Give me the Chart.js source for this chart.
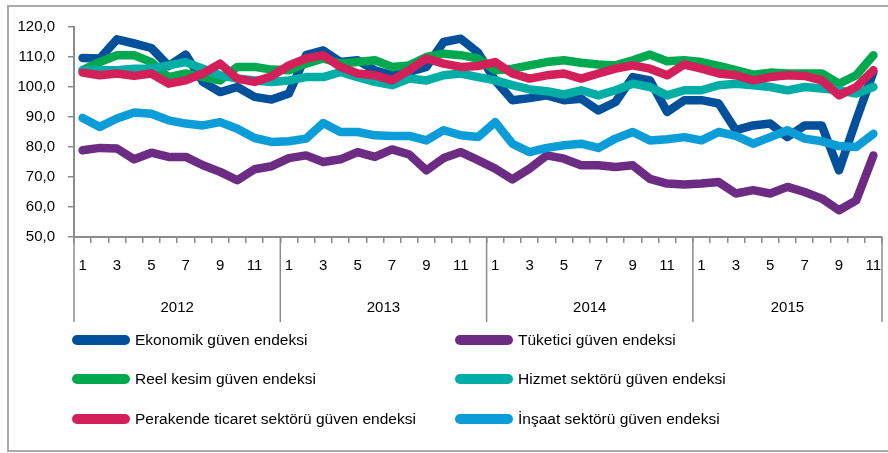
<!DOCTYPE html>
<html>
<head>
<meta charset="utf-8">
<script src="https://cdn.jsdelivr.net/npm/chart.js@4.4.0/dist/chart.umd.min.js"></script>
<style>
  html, body { margin: 0; padding: 0; background: #fff; }
  body { width: 888px; height: 453px; overflow: hidden; position: relative; font-family: "Liberation Sans", Arial, sans-serif; }
  #frame { position: absolute; left: 7px; top: 5px; width: 892px; height: 447px; border: 2px solid #ababab; box-sizing: border-box; }
  #grafik { position: absolute; left: 0; top: 0; }
  .item { position: absolute; height: 20px; display: flex; align-items: center; font-size: 15.5px; color: #000; white-space: nowrap; }
  .swatch { width: 58px; height: 10px; border-radius: 5px; margin-right: 5px; }
</style>
</head>
<body>
<div id="frame"></div>
<canvas id="grafik" width="888" height="453"></canvas>
<div id="legend"></div>
<script>
// yillar ve her yildaki ay sayisi
const yillar = ['2012', '2013', '2014', '2015'];
const aylar = [12, 12, 12, 11];

const ekonomik = [
  109.7, 109.5, 115.9, 114.5, 113.0, 107.0, 110.8, 101.7, 98.3, 100.0, 96.7, 95.8,
  97.8, 110.6, 112.2, 108.3, 108.9, 105.6, 103.9, 105.0, 106.7, 115.0, 116.1, 111.5,
  102.2, 95.6, 96.3, 97.2, 95.6, 96.1, 92.2, 95.0, 103.3, 102.2, 91.7, 95.6,
  95.6, 94.5, 85.6, 87.2, 87.8, 83.3, 87.2, 87.2, 72.2, 89.0, 105.0
];
const tuketici = [
  78.9, 79.7, 79.5, 75.9, 78.1, 76.7, 76.7, 73.9, 71.7, 68.9, 72.6, 73.6,
  76.3, 77.2, 75.0, 75.9, 78.3, 76.7, 79.2, 77.5, 72.2, 76.3, 78.3, 75.6,
  72.8, 69.2, 72.8, 77.2, 76.1, 73.9, 73.9, 73.3, 73.9, 69.4, 67.8, 67.5,
  67.8, 68.3, 64.5, 65.6, 64.5, 66.7, 65.0, 62.8, 58.9, 62.2, 77.2
];
const reel = [
  105.6, 108.3, 110.6, 110.6, 108.3, 103.3, 104.5, 103.3, 102.2, 106.7, 106.7, 105.8,
  105.6, 107.8, 109.5, 107.8, 108.3, 108.9, 106.7, 107.2, 110.0, 111.1, 110.6, 109.5,
  105.6, 106.1, 107.2, 108.3, 108.9, 108.1, 107.5, 107.2, 108.9, 110.8, 108.6, 108.9,
  108.3, 107.0, 105.6, 104.1, 104.8, 104.5, 104.5, 104.5, 101.1, 103.9, 110.6
];
const hizmet = [
  105.6, 105.6, 105.6, 106.1, 106.1, 107.2, 108.3, 106.1, 103.9, 102.8, 102.2, 101.7,
  102.2, 103.3, 103.3, 105.0, 103.3, 101.7, 100.6, 102.8, 102.2, 103.9, 104.5, 103.3,
  102.2, 100.6, 99.2, 98.6, 97.5, 98.9, 97.2, 98.9, 101.1, 100.0, 97.2, 98.9,
  98.9, 100.6, 101.1, 100.6, 100.0, 98.9, 100.0, 99.5, 98.9, 97.8, 100.0
];
const perakende = [
  104.8, 103.9, 104.5, 103.7, 104.5, 101.1, 102.2, 104.5, 107.8, 102.8, 101.7, 103.6,
  107.2, 109.5, 110.6, 106.7, 104.5, 103.9, 102.2, 105.6, 109.5, 107.8, 106.7, 107.0,
  108.3, 104.5, 102.8, 103.9, 104.5, 102.8, 104.5, 106.1, 107.2, 106.1, 103.9, 107.5,
  106.1, 104.5, 103.9, 102.2, 103.3, 103.9, 103.7, 102.2, 97.2, 100.0, 105.6
];
const insaat = [
  89.7, 86.7, 89.5, 91.5, 91.1, 88.9, 87.8, 87.2, 88.3, 86.1, 83.0, 81.7,
  81.9, 82.8, 88.0, 85.0, 85.0, 83.9, 83.7, 83.7, 82.2, 85.6, 83.9, 83.3,
  88.3, 81.1, 78.3, 79.7, 80.6, 81.1, 79.7, 82.8, 85.0, 82.2, 82.6, 83.3,
  82.2, 85.0, 83.7, 81.1, 83.3, 85.6, 82.8, 81.9, 80.3, 80.0, 84.4
];

const yMin = 50, yMax = 120, yAdim = 10;

const seriler = [
  { ad: 'Ekonomik güven endeksi', veri: ekonomik, renk: '#00509b' },
  { ad: 'Tüketici güven endeksi', veri: tuketici, renk: '#6d2c84' },
  { ad: 'Reel kesim güven endeksi', veri: reel, renk: '#00a84f' },
  { ad: 'Hizmet sektörü güven endeksi', veri: hizmet, renk: '#00aea6' },
  { ad: 'Perakende ticaret sektörü güven endeksi', veri: perakende, renk: '#d31f5a' },
  { ad: 'İnşaat sektörü güven endeksi', veri: insaat, renk: '#0a9dd8' }
];

const etiketler = [];
aylar.forEach(n => { for (let m = 1; m <= n; m++) etiketler.push(String(m)); });

const eksenRenk = '#8c8c8c';
const yazi = '"Liberation Sans", Arial, sans-serif';

// yil ayiricilari ve yil etiketleri
const yilEkseni = {
  id: 'yilEkseni',
  afterDraw(chart) {
    const x = chart.scales.x;
    const ctx = chart.ctx;
    const slot = x.width / etiketler.length;
    const sinirlar = [0];
    aylar.forEach(n => sinirlar.push(sinirlar[sinirlar.length - 1] + n));
    ctx.save();
    ctx.strokeStyle = eksenRenk;
    ctx.lineWidth = 1.5;
    sinirlar.forEach(s => {
      const px = x.left + s * slot;
      ctx.beginPath();
      ctx.moveTo(px, x.top);
      ctx.lineTo(px, x.top + 85);
      ctx.stroke();
    });
    ctx.fillStyle = '#000';
    ctx.font = '15px ' + yazi;
    ctx.textAlign = 'center';
    ctx.textBaseline = 'middle';
    yillar.forEach((y, i) => {
      ctx.fillText(y, x.left + (sinirlar[i] + sinirlar[i + 1]) / 2 * slot, x.top + 71);
    });
    ctx.restore();
  }
};

new Chart(document.getElementById('grafik'), {
  type: 'line',
  data: {
    labels: etiketler,
    datasets: seriler.map((s, i) => ({
      label: s.ad,
      data: s.veri,
      borderColor: s.renk,
      backgroundColor: s.renk,
      borderWidth: 8.5,
      borderJoinStyle: 'round',
      borderCapStyle: 'round',
      pointRadius: 0,
      tension: 0,
      order: seriler.length - i
    }))
  },
  options: {
    responsive: false,
    animation: false,
    devicePixelRatio: 1,
    layout: { padding: { left: 0, top: 27, right: 6, bottom: 126 } },
    plugins: {
      legend: { display: false },
      tooltip: { enabled: false }
    },
    scales: {
      x: {
        offset: true,
        grid: { offset: true, drawOnChartArea: false, tickLength: 6, color: eksenRenk, lineWidth: 1.5 },
        border: { display: true, color: eksenRenk, width: 2 },
        ticks: {
          autoSkip: false,
          maxRotation: 0,
          minRotation: 0,
          padding: 14,
          color: '#000',
          font: { family: yazi, size: 15 },
          callback: function (v, i) {
            const m = Number(etiketler[i]);
            return m % 2 === 1 ? etiketler[i] : '';
          }
        },
        afterFit: s => { s.height = 90; s.paddingLeft = 0; s.paddingRight = 0; }
      },
      y: {
        min: yMin,
        max: yMax,
        grid: { drawOnChartArea: false, tickLength: 6, color: eksenRenk, lineWidth: 1.5 },
        border: { display: true, color: eksenRenk, width: 2 },
        ticks: {
          stepSize: yAdim,
          padding: 13,
          color: '#000',
          font: { family: yazi, size: 15 },
          callback: v => v.toFixed(1).replace('.', ',')
        },
        afterFit: s => { s.width = 74; }
      }
    }
  },
  plugins: [yilEkseni]
});

// lejant: iki sutun, uc satir
const lejant = document.getElementById('legend');
const sutunX = [72, 455];
const satirY = [340, 379, 419];
seriler.forEach((s, i) => {
  const d = document.createElement('div');
  d.className = 'item';
  d.style.left = sutunX[i % 2] + 'px';
  d.style.top = (satirY[Math.floor(i / 2)] - 10) + 'px';
  d.innerHTML = `<span class="swatch" style="background:${s.renk}"></span><span>${s.ad}</span>`;
  lejant.appendChild(d);
});
</script>
</body>
</html>
